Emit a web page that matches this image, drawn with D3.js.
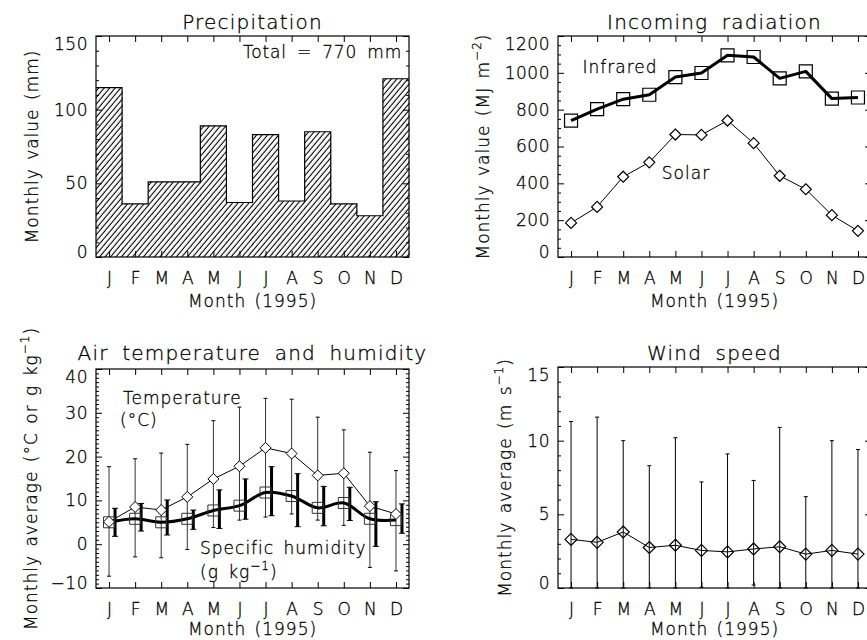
<!DOCTYPE html>
<html>
<head>
<meta charset="utf-8">
<script src="https://cdn.jsdelivr.net/npm/d3@7"></script>
<style>
  body { margin: 0; background: #fff; }
  svg { display: block; font-family: "DejaVu Sans", sans-serif; font-weight: 200; }
  text { fill: #000; stroke: #000; stroke-width: 0.3px; }
</style>
</head>
<body>
<svg id="chart" width="867" height="640"></svg>
<script>
// ---- Monthly data, 1995 ----
const monthLabels = ["J", "F", "M", "A", "M", "J", "J", "A", "S", "O", "N", "D"];
const monthIndex = d3.range(12);

const precipitation = [115, 36, 51, 51, 89, 37, 83, 38, 85, 36, 28, 121]; // mm
const precipTotal = "Total = 770 mm";

const infrared = [740, 803, 857, 881, 977, 999, 1095, 1086, 970, 1008, 860, 866]; // MJ m-2
const solar = [185, 272, 436, 514, 665, 663, 741, 618, 441, 368, 227, 142];       // MJ m-2

const temperature = [5.1, 8.5, 7.8, 10.8, 14.9, 17.8, 22.0, 20.7, 15.7, 16.2, 8.7, 6.9]; // degC
const temperatureMax = [17.7, 19.5, 20.8, 22.8, 28.2, 31.3, 33.3, 33.1, 29.0, 26.1, 21.0, 16.8];
const temperatureMin = [-7.3, -2.9, -3.1, -1.2, 3.8, 5.5, 6.2, 6.9, 5.5, 4.3, -5.3, -6.1];

const humidity = [5.0, 5.8, 5.0, 5.8, 7.7, 8.8, 11.8, 11.0, 8.3, 9.4, 5.8, 5.5]; // g kg-1
const humidityMax = [8.2, 9.3, 10.1, 7.8, 12.4, 14.9, 17.7, 16.1, 13.2, 13.0, 9.7, 9.2];
const humidityMin = [1.8, 3.0, 2.1, 3.4, 3.6, 5.7, 6.5, 4.0, 4.2, 5.4, -0.5, 2.5];

const windSpeed = [3.3, 3.1, 3.8, 2.75, 2.9, 2.55, 2.45, 2.65, 2.8, 2.3, 2.55, 2.3]; // m s-1
const windMax = [11.3, 11.6, 10.0, 8.3, 10.2, 7.2, 9.1, 7.3, 10.9, 6.2, 10.0, 9.4];
const windMin = [0, 0, 0, 0, 0, 0.05, 0, 0.2, 0, 0, 0, 0];

// ---- Drawing ----
const svg = d3.select("#chart");
const defs = svg.append("defs");

const hatch = defs.append("pattern")
  .attr("id", "hatch")
  .attr("patternUnits", "userSpaceOnUse")
  .attr("width", 4.2)
  .attr("height", 8)
  .attr("patternTransform", "rotate(40)");
hatch.append("line")
  .attr("x1", 2).attr("y1", 0).attr("x2", 2).attr("y2", 8)
  .attr("stroke", "#000").attr("stroke-width", 1.1);

const TICK_FONT = 17;

// Adds a boxed panel with inward ticks on all four sides.
function panel(o) {
  const g = svg.append("g");
  const x = d3.scaleBand().domain(monthIndex).range([o.x0, o.x1]).padding(0);
  const cx = i => x(i) + x.bandwidth() / 2;
  const y = d3.scaleLinear().domain(o.domain).range([o.y1, o.y0]);

  const majors = d3.range(o.domain[0], o.domain[1] + 1e-9, o.major);
  const minors = d3.range(o.domain[0], o.domain[1] + 1e-9, o.minor)
    .filter(v => !majors.some(m => Math.abs(m - v) < 1e-9));

  // left axis with labels
  const left = g.append("g").attr("transform", `translate(${o.x0},0)`)
    .call(d3.axisLeft(y).tickValues(majors).tickSizeInner(-6).tickSizeOuter(0)
      .tickPadding(8).tickFormat(d3.format("d")));
  left.selectAll("text").attr("font-size", TICK_FONT).attr("letter-spacing", 0.5)
    .attr("font-family", "DejaVu Sans");
  // end labels sit a little inside the frame
  left.selectAll(".tick").filter(d => d === majors[majors.length - 1])
    .select("text").attr("transform", "translate(0,8)");
  left.selectAll(".tick").filter(d => d === majors[0])
    .select("text").attr("transform", "translate(0,-5)");
  g.append("g").attr("transform", `translate(${o.x0},0)`)
    .call(d3.axisLeft(y).tickValues(minors).tickSizeInner(-3).tickSizeOuter(0).tickFormat(""));
  // right axis
  g.append("g").attr("transform", `translate(${o.x1},0)`)
    .call(d3.axisRight(y).tickValues(majors).tickSizeInner(-6).tickSizeOuter(0).tickFormat(""));
  g.append("g").attr("transform", `translate(${o.x1},0)`)
    .call(d3.axisRight(y).tickValues(minors).tickSizeInner(-3).tickSizeOuter(0).tickFormat(""));

  // month axes
  const monthAxis = d3.scalePoint().domain(monthIndex).range([cx(0), cx(11)]);
  const bottom = g.append("g").attr("transform", `translate(0,${o.y1})`)
    .call(d3.axisBottom(monthAxis).tickSizeInner(-6).tickSizeOuter(0).tickPadding(15)
      .tickFormat(i => monthLabels[i]));
  bottom.selectAll("text").attr("font-size", TICK_FONT).attr("font-family", "DejaVu Sans");
  g.append("g").attr("transform", `translate(0,${o.y0})`)
    .call(d3.axisTop(monthAxis).tickSizeInner(-6).tickSizeOuter(0).tickFormat(""));

  g.selectAll(".domain").remove();
  g.selectAll(".tick line").attr("stroke", "#000").attr("stroke-width", 1);

  // frame
  g.append("rect")
    .attr("x", o.x0).attr("y", o.y0)
    .attr("width", o.x1 - o.x0).attr("height", o.y1 - o.y0)
    .attr("fill", "none").attr("stroke", "#000").attr("stroke-width", 1.2);

  // title
  g.append("text")
    .attr("x", (o.x0 + o.x1) / 2).attr("y", o.y0 - o.titleGap)
    .attr("text-anchor", "middle")
    .attr("font-size", 20).attr("letter-spacing", 1.2).attr("word-spacing", 6)
    .text(o.title);

  // x title
  g.append("text")
    .attr("x", (o.x0 + o.x1) / 2).attr("y", o.y1 + o.xtitleGap)
    .attr("text-anchor", "middle")
    .attr("font-size", TICK_FONT).attr("letter-spacing", 1).attr("word-spacing", 2)
    .text("Month (1995)");

  // y title, rotated, with optional superscript
  const yt = g.append("text")
    .attr("transform", `translate(${o.ylabelX},${(o.y0 + o.y1) / 2}) rotate(-90)`)
    .attr("text-anchor", "middle")
    .attr("font-size", TICK_FONT).attr("letter-spacing", 1).attr("word-spacing", 2);
  yt.append("tspan").text(o.ylabel[0]);
  if (o.ylabel.length > 1) {
    yt.append("tspan").attr("font-size", 12).attr("dy", -8).text(o.ylabel[1]);
    yt.append("tspan").attr("dy", 8).text(o.ylabel[2]);
  }

  return { g, x, y, cx };
}

function diamondPath(r) {
  return `M0,${-r}L${r},0L0,${r}L${-r},0Z`;
}
function squarePath(h) {
  return `M${-h},${-h}H${h}V${h}H${-h}Z`;
}

function errorBars(p, hi, lo, dx, width, cap) {
  const gg = p.g.append("g").attr("stroke", "#000").attr("stroke-width", width);
  monthIndex.forEach(i => {
    const xx = p.cx(i) + dx;
    gg.append("line").attr("x1", xx).attr("x2", xx).attr("y1", p.y(hi[i])).attr("y2", p.y(lo[i]));
    gg.append("line").attr("x1", xx - cap).attr("x2", xx + cap).attr("y1", p.y(hi[i])).attr("y2", p.y(hi[i]))
      .attr("stroke-width", 1);
    gg.append("line").attr("x1", xx - cap).attr("x2", xx + cap).attr("y1", p.y(lo[i])).attr("y2", p.y(lo[i]))
      .attr("stroke-width", 1);
  });
}

// ---------- Precipitation ----------
const p1 = panel({
  x0: 96, x1: 409, y0: 36, y1: 257,
  domain: [0, 150], major: 50, minor: 10,
  title: "Precipitation", titleGap: 7, xtitleGap: 50,
  ylabel: ["Monthly value (mm)"], ylabelX: 38
});
p1.g.insert("g", ":first-child").selectAll("rect")
  .data(precipitation)
  .join("rect")
  .attr("x", (d, i) => p1.x(i))
  .attr("y", d => p1.y(d))
  .attr("width", p1.x.bandwidth() + 0.5)
  .attr("height", d => p1.y(0) - p1.y(d))
  .attr("fill", "url(#hatch)");
// stepped outline along the bar tops
{
  const pts = [];
  precipitation.forEach((v, i) => {
    pts.push([p1.x(i), p1.y(v)]);
    pts.push([p1.x(i) + p1.x.bandwidth(), p1.y(v)]);
  });
  p1.g.append("path")
    .attr("d", d3.line()(pts))
    .attr("fill", "none").attr("stroke", "#000").attr("stroke-width", 1.2);
}
p1.g.append("text")
  .attr("x", 402).attr("y", 52).attr("dy", "0.35em")
  .attr("text-anchor", "end")
  .attr("font-size", TICK_FONT).attr("letter-spacing", 0.8).attr("word-spacing", 4)
  .text(precipTotal);

// ---------- Incoming radiation ----------
const p2 = panel({
  x0: 558, x1: 871, y0: 36, y1: 257,
  domain: [0, 1200], major: 200, minor: 50,
  title: "Incoming radiation", titleGap: 7, xtitleGap: 50,
  ylabel: ["Monthly value (MJ m", "−2", ")"], ylabelX: 489
});
const lineR = d3.line().x((d, i) => p2.cx(i)).y(d => p2.y(d));
p2.g.append("path").attr("d", lineR(infrared))
  .attr("fill", "none").attr("stroke", "#000").attr("stroke-width", 3).attr("stroke-linejoin", "round");
p2.g.append("path").attr("d", lineR(solar))
  .attr("fill", "none").attr("stroke", "#000").attr("stroke-width", 1);
p2.g.selectAll(".ir").data(infrared).join("path")
  .attr("transform", (d, i) => `translate(${p2.cx(i)},${p2.y(d)})`)
  .attr("d", squarePath(6.5)).attr("fill", "none").attr("stroke", "#000").attr("stroke-width", 1.2);
p2.g.selectAll(".sol").data(solar).join("path")
  .attr("transform", (d, i) => `translate(${p2.cx(i)},${p2.y(d)})`)
  .attr("d", diamondPath(5.5)).attr("fill", "#fff").attr("stroke", "#000").attr("stroke-width", 1.2);
p2.g.append("text").attr("x", 620).attr("y", 67).attr("dy", "0.35em")
  .attr("text-anchor", "middle").attr("font-size", TICK_FONT).attr("letter-spacing", 1)
  .text("Infrared");
p2.g.append("text").attr("x", 686).attr("y", 173).attr("dy", "0.35em")
  .attr("text-anchor", "middle").attr("font-size", TICK_FONT).attr("letter-spacing", 1)
  .text("Solar");

// ---------- Air temperature and humidity ----------
const p3 = panel({
  x0: 96, x1: 409, y0: 369, y1: 588,
  domain: [-10, 40], major: 10, minor: 1,
  title: "Air temperature and humidity", titleGap: 9, xtitleGap: 47,
  ylabel: ["Monthly average (°C or g kg", "−1", ")"], ylabelX: 37
});
errorBars(p3, temperatureMax, temperatureMin, 0, 0.8, 2);
errorBars(p3, humidityMax, humidityMin, 6, 3, 3);
p3.g.append("path")
  .attr("d", d3.line().x((d, i) => p3.cx(i)).y(d => p3.y(d))(temperature))
  .attr("fill", "none").attr("stroke", "#000").attr("stroke-width", 1);
p3.g.append("path")
  .attr("d", d3.line().curve(d3.curveCatmullRom).x((d, i) => p3.cx(i)).y(d => p3.y(d))(humidity))
  .attr("fill", "none").attr("stroke", "#000").attr("stroke-width", 3);
p3.g.selectAll(".hum").data(humidity).join("path")
  .attr("transform", (d, i) => `translate(${p3.cx(i)},${p3.y(d)})`)
  .attr("d", squarePath(5.5)).attr("fill", "none").attr("stroke", "#333").attr("stroke-width", 1);
p3.g.selectAll(".tmp").data(temperature).join("path")
  .attr("transform", (d, i) => `translate(${p3.cx(i)},${p3.y(d)})`)
  .attr("d", diamondPath(5.5)).attr("fill", "#fff").attr("stroke", "#000").attr("stroke-width", 1);
p3.g.append("text").attr("x", 123).attr("y", 398).attr("dy", "0.35em")
  .attr("font-size", TICK_FONT).attr("letter-spacing", 1).text("Temperature");
p3.g.append("text").attr("x", 120).attr("y", 420).attr("dy", "0.35em")
  .attr("font-size", TICK_FONT).attr("letter-spacing", 1).text("(°C)");
p3.g.append("text").attr("x", 200).attr("y", 548).attr("dy", "0.35em")
  .attr("font-size", TICK_FONT).attr("letter-spacing", 1).attr("word-spacing", 3).text("Specific humidity");
{
  const t = p3.g.append("text").attr("x", 200).attr("y", 572).attr("dy", "0.35em")
    .attr("font-size", TICK_FONT).attr("letter-spacing", 1).attr("word-spacing", 3);
  t.append("tspan").text("(g kg");
  t.append("tspan").attr("font-size", 12).attr("dy", -8).text("−1");
  t.append("tspan").attr("dy", 8).text(")");
}

// ---------- Wind speed ----------
const p4 = panel({
  x0: 558, x1: 871, y0: 367, y1: 588,
  domain: [0, 15], major: 5, minor: 1,
  title: "Wind speed", titleGap: 7, xtitleGap: 47,
  ylabel: ["Monthly average (m s", "−1", ")"], ylabelX: 511
});
errorBars(p4, windMax, windMin, 0, 1, 2);
p4.g.append("path")
  .attr("d", d3.line().x((d, i) => p4.cx(i)).y(d => p4.y(d))(windSpeed))
  .attr("fill", "none").attr("stroke", "#000").attr("stroke-width", 1);
p4.g.selectAll(".wnd").data(windSpeed).join("path")
  .attr("transform", (d, i) => `translate(${p4.cx(i)},${p4.y(d)})`)
  .attr("d", diamondPath(6)).attr("fill", "none").attr("stroke", "#000").attr("stroke-width", 1.2);
</script>
</body>
</html>
